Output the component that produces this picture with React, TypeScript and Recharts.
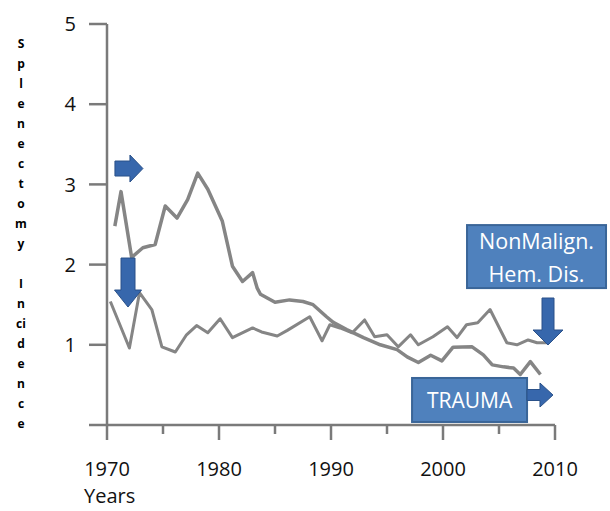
import React from 'react';
import { LineChart, Line, XAxis, YAxis, ReferenceDot, Label } from 'recharts';

// Trauma series (upper line early on, ends lowest)
const traumaYears = [
  1970.7, 1971.25, 1972.2, 1973.2, 1974.3, 1975.2, 1976.25, 1977.2, 1978.1, 1979.0,
  1980.3, 1981.2, 1982.1, 1983.0, 1983.4, 1983.7, 1985.0, 1986.3, 1987.5, 1988.4,
  1989.6, 1990.2, 1991.4, 1992.9, 1994.4, 1995.9, 1996.8, 1997.8, 1998.9, 1999.9,
  2000.9, 2002.6, 2003.6, 2004.4, 2005.4, 2006.3, 2006.9, 2007.8, 2008.7,
];
const traumaValues = [
  2.48, 2.91, 2.09, 2.21, 2.25, 2.73, 2.58, 2.81, 3.14, 2.94,
  2.54, 1.98, 1.79, 1.9, 1.71, 1.63, 1.53, 1.56, 1.54, 1.5,
  1.35, 1.28, 1.19, 1.09, 1.0, 0.94, 0.85, 0.78, 0.87, 0.8,
  0.97, 0.975, 0.875, 0.75, 0.725, 0.71, 0.63, 0.79, 0.63,
];

// Non-malignant hematologic disease series
const hemYears = [
  1970.3, 1972.0, 1972.9, 1974.0, 1974.9, 1976.1, 1977.1, 1978.0, 1979.0, 1980.1,
  1981.2, 1983.0, 1983.8, 1985.2, 1986.1, 1988.1, 1989.2, 1989.9, 1990.8, 1991.9,
  1993.0, 1993.9, 1995.0, 1996.0, 1997.1, 1997.8, 1999.1, 2000.4, 2001.25, 2002.1,
  2003.1, 2004.2, 2005.7, 2006.6, 2007.6, 2008.4, 2009.3,
];
const hemValues = [
  1.54, 0.96, 1.65, 1.44, 0.975, 0.91, 1.125, 1.24, 1.15, 1.325,
  1.09, 1.21, 1.16, 1.11, 1.18, 1.35, 1.05, 1.25, 1.21, 1.15,
  1.31, 1.1, 1.125, 0.975, 1.125, 1.0, 1.1, 1.225, 1.09, 1.25,
  1.275, 1.44, 1.025, 1.0, 1.06, 1.025, 1.025,
];

const xTicks = [1970, 1975, 1980, 1985, 1990, 1995, 2000, 2005, 2010];
const xLabelTicks = [1970, 1980, 1990, 2000, 2010];
const yTicks = [0, 1, 2, 3, 4, 5];
const yTitleLetters = ['S', 'p', 'l', 'e', 'n', 'e', 'c', 't', 'o', 'm', 'y', '', 'I', 'n', 'ci', 'd', 'e', 'n', 'c', 'e'];
const xTitle = 'Years';
const hemLabel = ['NonMalign.', 'Hem. Dis.'];
const traumaLabel = 'TRAUMA';

const traumaData = traumaYears.map((year, i) => ({ year, value: traumaValues[i] }));
const hemData = hemYears.map((year, i) => ({ year, value: hemValues[i] }));

const AXIS = '#7a7a7a';
const LINE = '#858585';
const TEXT = '#111';
const BOX_FILL = '#4f81bd';
const BOX_STROKE = '#3a6598';
const ARROW_FILL = '#3767ac';
const ARROW_STROKE = '#2a5189';
const FONT = '"Open Sans", sans-serif';

const XTick = (props: any) => {
  const { x, y, payload } = props;
  const major = xLabelTicks.includes(payload.value);
  return (
    <g>
      <line x1={x} x2={x} y1={y} y2={y + (major ? 15 : 9)} stroke={AXIS} strokeWidth={2.5} />
      {major && (
        <text x={x} y={y + 51} textAnchor="middle" fontSize={20} fill={TEXT} fontFamily={FONT}>
          {payload.value}
        </text>
      )}
    </g>
  );
};

const YTitle = (props: any) => {
  const { viewBox } = props;
  return (
    <g>
      {yTitleLetters.map((ch, i) => (
        <text
          key={i}
          x={viewBox.x + 21}
          y={viewBox.y + 24 + 20 * i}
          textAnchor="middle"
          fontSize={12}
          fontWeight="bold"
          fill="#000"
          fontFamily={FONT}
        >
          {ch}
        </text>
      ))}
    </g>
  );
};

const XTitle = (props: any) => {
  const { viewBox } = props;
  return (
    <text x={viewBox.x - 23} y={viewBox.y + 78} textAnchor="start" fontSize={20} fill={TEXT} fontFamily={FONT}>
      {xTitle}
    </text>
  );
};

const rightArrow = (len: number, bodyH: number, headL: number, headH: number) => (p: any) => {
  const { cx, cy } = p;
  const d = [
    `M${cx},${cy}`,
    `L${cx - headL},${cy - headH / 2}`,
    `L${cx - headL},${cy - bodyH / 2}`,
    `L${cx - len},${cy - bodyH / 2}`,
    `L${cx - len},${cy + bodyH / 2}`,
    `L${cx - headL},${cy + bodyH / 2}`,
    `L${cx - headL},${cy + headH / 2}`,
    'Z',
  ].join(' ');
  return <path d={d} fill={ARROW_FILL} stroke={ARROW_STROKE} strokeWidth={1} />;
};

const downArrow = (len: number, bodyW: number, headL: number, headW: number) => (p: any) => {
  const { cx, cy } = p;
  const d = [
    `M${cx},${cy}`,
    `L${cx - headW / 2},${cy - headL}`,
    `L${cx - bodyW / 2},${cy - headL}`,
    `L${cx - bodyW / 2},${cy - len}`,
    `L${cx + bodyW / 2},${cy - len}`,
    `L${cx + bodyW / 2},${cy - headL}`,
    `L${cx + headW / 2},${cy - headL}`,
    'Z',
  ].join(' ');
  return <path d={d} fill={ARROW_FILL} stroke={ARROW_STROKE} strokeWidth={1} />;
};

const hemBox = (p: any) => {
  const { cx, cy } = p;
  const w = 139;
  const h = 63;
  return (
    <g>
      <rect x={cx - w / 2} y={cy - h / 2} width={w} height={h} fill={BOX_FILL} stroke={BOX_STROKE} strokeWidth={2} />
      <text x={cx} y={cy - 8} textAnchor="middle" fontSize={21.5} fill="#fff" fontFamily={FONT}>
        {hemLabel[0]}
      </text>
      <text x={cx} y={cy + 25} textAnchor="middle" fontSize={21.5} fill="#fff" fontFamily={FONT}>
        {hemLabel[1]}
      </text>
    </g>
  );
};

const traumaBox = (p: any) => {
  const { cx, cy } = p;
  const w = 115;
  const h = 44;
  return (
    <g>
      <rect x={cx - w / 2} y={cy - h / 2} width={w} height={h} fill={BOX_FILL} stroke={BOX_STROKE} strokeWidth={2} />
      <text x={cx} y={cy + 8} textAnchor="middle" fontSize={21} fill="#fff" fontFamily={FONT}>
        {traumaLabel}
      </text>
    </g>
  );
};

export default function App() {
  return (
    <div style={{ position: 'absolute', left: 0, top: 0, background: '#fff', fontFamily: FONT }}>
      <LineChart width={610} height={511} margin={{ top: 24, right: 55, bottom: 26, left: 0 }}>
        <XAxis
          type="number"
          dataKey="year"
          domain={[1970, 2010]}
          ticks={xTicks}
          interval={0}
          tickSize={0}
          tickMargin={0}
          tickLine={false}
          tick={<XTick />}
          height={60}
          allowDataOverflow
          axisLine={{ stroke: AXIS, strokeWidth: 2.5 }}
        >
          <Label content={<XTitle />} />
        </XAxis>
        <YAxis
          type="number"
          domain={[0, 5]}
          ticks={yTicks}
          interval={0}
          width={107}
          tickSize={18}
          tickMargin={13}
          tickFormatter={(v: number) => (v === 0 ? '' : String(v))}
          tick={{ fontSize: 20, fill: TEXT, fontFamily: FONT }}
          axisLine={{ stroke: AXIS, strokeWidth: 2.5 }}
          tickLine={{ stroke: AXIS, strokeWidth: 2.5 }}
        >
          <Label content={<YTitle />} />
        </YAxis>
        <Line
          data={traumaData}
          dataKey="value"
          type="linear"
          stroke={LINE}
          strokeWidth={3.5}
          dot={false}
          activeDot={false}
          isAnimationActive={false}
          strokeLinejoin="round"
        />
        <Line
          data={hemData}
          dataKey="value"
          type="linear"
          stroke={LINE}
          strokeWidth={3}
          dot={false}
          activeDot={false}
          isAnimationActive={false}
          strokeLinejoin="round"
        />
        <ReferenceDot x={1973.21} y={3.198} ifOverflow="visible" shape={rightArrow(28, 15, 13, 27)} />
        <ReferenceDot x={1971.875} y={1.471} ifOverflow="visible" shape={downArrow(49, 14, 17, 27)} />
        <ReferenceDot x={2008.35} y={2.1} ifOverflow="visible" shape={hemBox} />
        <ReferenceDot x={2009.375} y={0.9975} ifOverflow="visible" shape={downArrow(47, 12, 15, 30)} />
        <ReferenceDot x={2002.37} y={0.312} ifOverflow="visible" shape={traumaBox} />
        <ReferenceDot x={2009.82} y={0.374} ifOverflow="visible" shape={rightArrow(26, 11, 13, 24)} />
      </LineChart>
    </div>
  );
}
